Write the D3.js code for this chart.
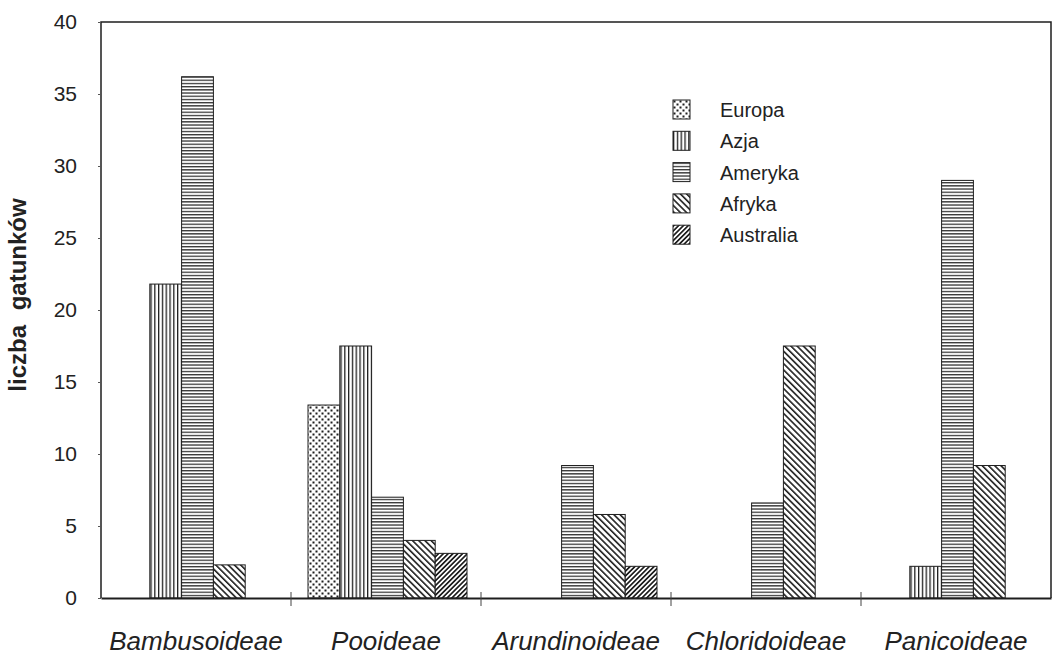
<!DOCTYPE html>
<html>
<head>
<meta charset="utf-8">
<script src="https://cdn.jsdelivr.net/npm/d3@7"></script>
<style>
  body { margin: 0; background: #fff; }
  svg text { font-family: "Liberation Sans", Arial, sans-serif; fill: #222; }
</style>
</head>
<body>
<svg width="1058" height="658"></svg>
<script>
// Data
var categories = ['Bambusoideae', 'Pooideae', 'Arundinoideae', 'Chloridoideae', 'Panicoideae'];
var series = ['Europa', 'Azja', 'Ameryka', 'Afryka', 'Australia'];
// one array per series, in category order (0 = no bar)
var europa    = [0,    13.4, 0,   0,    0];
var azja      = [21.8, 17.5, 0,   0,    2.2];
var ameryka   = [36.2, 7.0,  9.2, 6.6,  29.0];
var afryka    = [2.3,  4.0,  5.8, 17.5, 9.2];
var australia = [0,    3.1,  2.2, 0,    0];
var yTicks = [0, 5, 10, 15, 20, 25, 30, 35, 40];

var values = { Europa: europa, Azja: azja, Ameryka: ameryka, Afryka: afryka, Australia: australia };

var svg = d3.select('svg');
var padding = { t: 22, r: 7, b: 60, l: 101 };
var chartWidth = 1058 - padding.l - padding.r;
var chartHeight = 658 - padding.t - padding.b;

var x0 = d3.scaleBand().domain(categories).range([0, chartWidth]);
var x1 = d3.scaleBand().domain(series).range([17, 176]);
var y = d3.scaleLinear().domain([0, 40]).range([chartHeight, 0]);

// patterns for each series
var defs = svg.append('defs');
var ink = '#1e1e1e';

var pEu = defs.append('pattern').attr('id', 'p-Europa').attr('patternUnits', 'userSpaceOnUse')
    .attr('width', 6).attr('height', 6);
pEu.append('rect').attr('width', 6).attr('height', 6).attr('fill', '#fff');
pEu.append('rect').attr('x', 0.5).attr('y', 0.5).attr('width', 2).attr('height', 2).attr('fill', ink);
pEu.append('rect').attr('x', 3.5).attr('y', 3.5).attr('width', 2).attr('height', 2).attr('fill', ink);

var pAz = defs.append('pattern').attr('id', 'p-Azja').attr('patternUnits', 'userSpaceOnUse')
    .attr('width', 3.8).attr('height', 10);
pAz.append('rect').attr('width', 3.8).attr('height', 10).attr('fill', '#fff');
pAz.append('rect').attr('x', 0).attr('width', 1.3).attr('height', 10).attr('fill', ink);

var pAm = defs.append('pattern').attr('id', 'p-Ameryka').attr('patternUnits', 'userSpaceOnUse')
    .attr('width', 10).attr('height', 3.2);
pAm.append('rect').attr('width', 10).attr('height', 3.2).attr('fill', '#fff');
pAm.append('rect').attr('y', 0).attr('width', 10).attr('height', 1.3).attr('fill', '#333');

var pAf = defs.append('pattern').attr('id', 'p-Afryka').attr('patternUnits', 'userSpaceOnUse')
    .attr('width', 4.4).attr('height', 10).attr('patternTransform', 'rotate(-45)');
pAf.append('rect').attr('width', 4.4).attr('height', 10).attr('fill', '#fff');
pAf.append('rect').attr('width', 1.6).attr('height', 10).attr('fill', ink);

var pAu = defs.append('pattern').attr('id', 'p-Australia').attr('patternUnits', 'userSpaceOnUse')
    .attr('width', 3.4).attr('height', 10).attr('patternTransform', 'rotate(45)');
pAu.append('rect').attr('width', 3.4).attr('height', 10).attr('fill', '#fff');
pAu.append('rect').attr('width', 1.7).attr('height', 10).attr('fill', ink);

var chartG = svg.append('g').attr('transform', `translate(${padding.l}, ${padding.t})`);

// bars
var groups = chartG.selectAll('.group')
    .data(categories)
    .enter().append('g')
    .attr('class', 'group')
    .attr('transform', d => `translate(${x0(d)},0)`);

groups.selectAll('rect')
    .data(function(c, i) {
        return series.map(s => ({ s: s, v: values[s][i] })).filter(d => d.v > 0);
    })
    .enter().append('rect')
    .attr('x', d => x1(d.s))
    .attr('y', d => y(d.v))
    .attr('width', x1.bandwidth())
    .attr('height', d => chartHeight - y(d.v))
    .attr('fill', d => `url(#p-${d.s})`)
    .attr('stroke', ink)
    .attr('stroke-width', 1);

// frame
chartG.append('path')
    .attr('d', `M0,${chartHeight}V0H${chartWidth}V${chartHeight}`)
    .attr('fill', 'none').attr('stroke', ink).attr('stroke-width', 1.5);

// y axis
var yAxis = chartG.append('g')
    .call(d3.axisLeft(y).tickValues(yTicks).tickSize(3).tickPadding(21));
yAxis.select('.domain').remove();
yAxis.selectAll('line').attr('stroke', '#555');
yAxis.selectAll('text').style('font-size', '21px').attr('fill', '#333');

// x axis
var xAxis = chartG.append('g').attr('transform', `translate(0,${chartHeight})`)
    .call(d3.axisBottom(x0).tickSize(0).tickPadding(34));
xAxis.select('.domain').attr('stroke', ink).attr('stroke-width', 2);
xAxis.selectAll('text').style('font-size', '26px').style('font-style', 'italic').attr('fill', '#222');
chartG.append('g').selectAll('line')
    .data(categories.slice(1))
    .enter().append('line')
    .attr('x1', d => x0(d)).attr('x2', d => x0(d))
    .attr('y1', chartHeight - 6).attr('y2', chartHeight + 8)
    .attr('stroke', '#444').attr('stroke-width', 1);

// y title
svg.append('text')
    .attr('transform', 'translate(26,295) rotate(-90)')
    .attr('text-anchor', 'middle')
    .style('font-size', '24px').style('font-weight', 'bold')
    .style('word-spacing', '8px')
    .text('liczba gatunków');

// legend
var legend = svg.append('g').attr('transform', 'translate(673,100)');
var li = legend.selectAll('g').data(series).enter().append('g')
    .attr('transform', (d, i) => `translate(0,${i * 31.3})`);
li.append('rect').attr('width', 17).attr('height', 19)
    .attr('fill', d => `url(#p-${d})`).attr('stroke', ink).attr('stroke-width', 1);
li.append('text').attr('x', 47).attr('y', 17)
    .style('font-size', '20px').attr('fill', '#2a2a2a')
    .text(d => d);
</script>
</body>
</html>
